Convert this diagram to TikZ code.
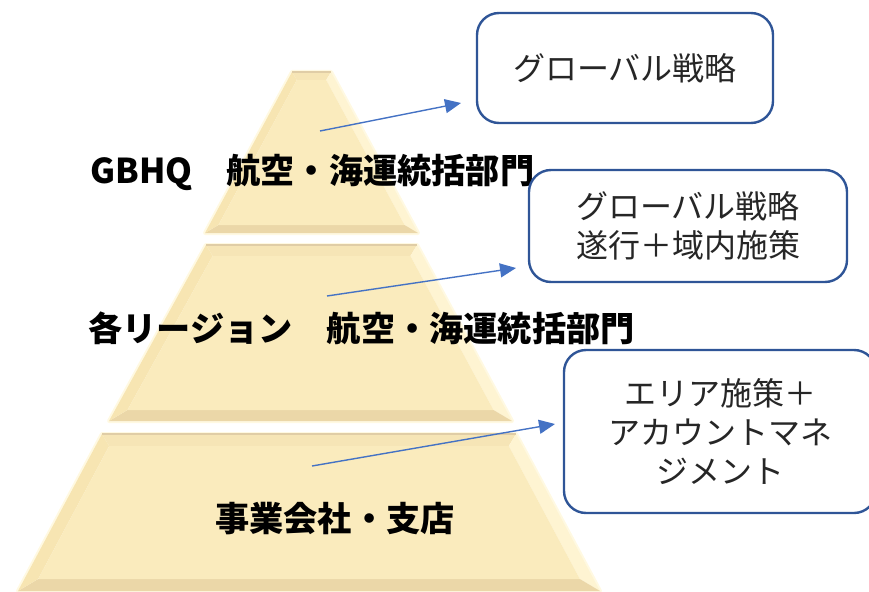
\documentclass[tikz,border=0pt]{standalone}
\usepackage{fontspec}
\newfontfamily\jp{Noto Sans CJK JP}
\usetikzlibrary{arrows.meta}
\definecolor{face}{HTML}{FAEBBD}
\definecolor{topf}{HTML}{F6E5B6}
\definecolor{leftf}{HTML}{F7E5B2}
\definecolor{rightf}{HTML}{FEF4D2}
\definecolor{botf}{HTML}{EBD7A8}
\definecolor{glow}{HTML}{FFF9E2}
\definecolor{topline}{HTML}{E0CDA6}
\definecolor{boxblue}{HTML}{2F5597}
\definecolor{arrblue}{HTML}{4472C4}
\newcommand{\drawtier}[7]{%
  \pgfmathsetmacro\tierTLx{#1+0.6*#7}%
  \pgfmathsetmacro\tierTRx{#2-0.6*#7}%
  \pgfmathsetmacro\tierBLx{#4+1.68*#7}%
  \pgfmathsetmacro\tierBRx{#5-1.68*#7}%
  \pgfmathsetmacro\tierTy{#3+#7}%
  \pgfmathsetmacro\tierBy{#6-#7}%
  \draw[glow, line width=4pt, line join=round] (#1,#3)--(#2,#3)--(#5,#6)--(#4,#6)--cycle;
  \fill[topf] (#1,#3)--(#2,#3)--(\tierTRx,\tierTy)--(\tierTLx,\tierTy)--cycle;
  \fill[rightf] (#2,#3)--(#5,#6)--(\tierBRx,\tierBy)--(\tierTRx,\tierTy)--cycle;
  \fill[botf] (#4,#6)--(#5,#6)--(\tierBRx,\tierBy)--(\tierBLx,\tierBy)--cycle;
  \fill[leftf] (#1,#3)--(\tierTLx,\tierTy)--(\tierBLx,\tierBy)--(#4,#6)--cycle;
  \fill[face] (\tierTLx,\tierTy)--(\tierTRx,\tierTy)--(\tierBRx,\tierBy)--(\tierBLx,\tierBy)--cycle;
  \draw[topline, line width=1.2pt] (#1,#3)--(#2,#3);
}
\tikzset{
  lvl/.style={font=\jp\bfseries\fontsize{34.2}{38}\selectfont, inner sep=0pt, text=black},
  infobox/.style={draw=boxblue, line width=2.4pt, rounded corners=22pt, fill=white,
    font=\jp\fontsize{32}{39}\selectfont, align=center, inner sep=0pt, text=black!85},
  conn/.style={draw=arrblue, line width=1.4pt, -{Triangle[length=16pt,width=14pt]}}
}
\begin{document}
\begin{tikzpicture}[x=1pt,y=-1pt]
\useasboundingbox (0,0) rectangle (869,591);
% pyramid tiers
\drawtier{292}{331}{72}{205}{418}{233}{8}
\drawtier{206}{417}{245}{109}{512}{421}{11}
\drawtier{102}{516}{434}{18}{600}{591}{12}
% labels
\node[lvl, anchor=west] (l1) at (90,172) {GBHQ　航空・海運統括部門};
\node[lvl, anchor=west] (l2) at (88,328) {各リージョン　航空・海運統括部門};
\node[lvl] (l3) at (335,519) {事業会社・支店};
% boxes
\node[infobox, minimum width=296pt, minimum height=110pt] (b1) at (625,68) {グローバル戦略};
\node[infobox, minimum width=318pt, minimum height=112pt] (b2) at (688,226) {グローバル戦略\\遂行＋域内施策};
\node[infobox, minimum width=312pt, minimum height=163pt] (b3) at (720,431.5) {エリア施策＋\\アカウントマネ\\ジメント};
% arrows
\coordinate (s1) at (320,131);
\coordinate (e1) at (461,103);
\coordinate (s2) at (327,296);
\coordinate (e2) at (516,268);
\coordinate (s3) at (312,466);
\coordinate (e3) at (555,424);
\draw[conn] (s1) -- (e1);
\draw[conn] (s2) -- (e2);
\draw[conn] (s3) -- (e3);
\end{tikzpicture}
\end{document}
